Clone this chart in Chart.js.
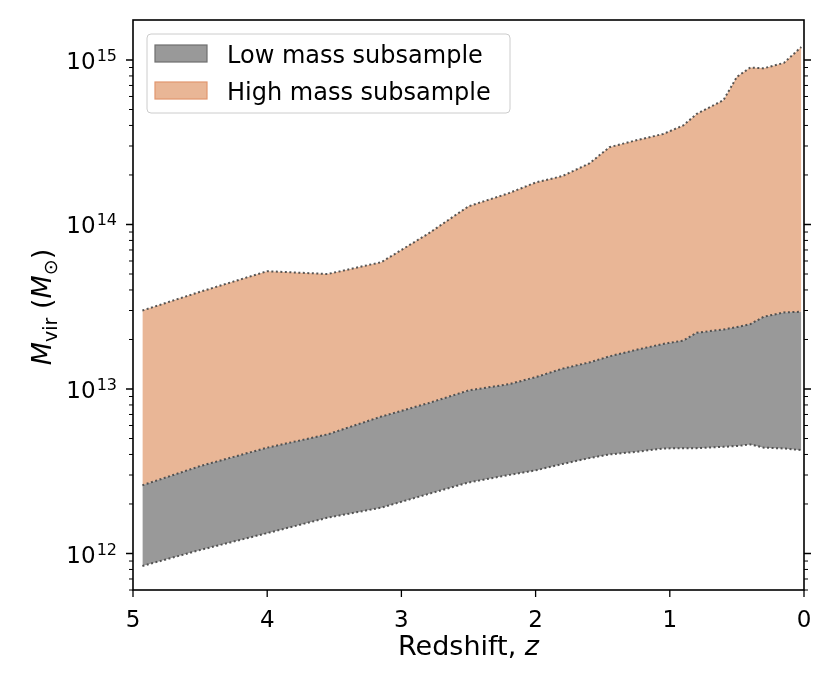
<!DOCTYPE html>
<html>
<head>
<meta charset="utf-8">
<script src="https://cdn.jsdelivr.net/npm/chart.js@4/dist/chart.umd.min.js"></script>
<style>
  html, body { margin: 0; padding: 0; background: #fff; }
  #wrap { width: 830px; height: 692px; }
</style>
</head>
<body>
<div id="wrap"><canvas id="massChart" width="830" height="692"></canvas></div>
<script>
// redshift grid, shared by the three envelope curves
var redshift = [4.93, 4.5, 4.0, 3.55, 3.15, 2.8, 2.5, 2.2, 2.0, 1.8, 1.6, 1.45, 1.25, 1.05, 0.9, 0.8, 0.6, 0.5, 0.4, 0.3, 0.15, 0.02]
// lower edge of low mass subsample
var lowMin = [8.4e11, 1.05e12, 1.33e12, 1.65e12, 1.9e12, 2.3e12, 2.7e12, 3.0e12, 3.2e12, 3.5e12, 3.8e12, 4.0e12, 4.15e12, 4.35e12, 4.37e12, 4.37e12, 4.45e12, 4.5e12, 4.6e12, 4.4e12, 4.35e12, 4.25e12]
// boundary between low and high mass subsamples
var split = [2.6e12, 3.4e12, 4.4e12, 5.3e12, 6.8e12, 8.2e12, 9.8e12, 1.07e13, 1.18e13, 1.33e13, 1.45e13, 1.58e13, 1.73e13, 1.88e13, 1.97e13, 2.2e13, 2.3e13, 2.38e13, 2.48e13, 2.75e13, 2.92e13, 2.95e13]
// upper edge of high mass subsample
var highMax = [3.0e13, 3.9e13, 5.2e13, 5.0e13, 5.9e13, 8.8e13, 1.29e14, 1.55e14, 1.8e14, 1.97e14, 2.35e14, 2.95e14, 3.25e14, 3.55e14, 4.0e14, 4.7e14, 5.7e14, 7.9e14, 9.0e14, 8.9e14, 9.6e14, 1.2e15]

var xTicks = [0, 1, 2, 3, 4, 5]
var yDecades = [12, 13, 14, 15]
var legendNames = ['Low mass subsample', 'High mass subsample']

var grayFill = 'rgb(153,153,153)'
var orangeFill = 'rgb(233,182,150)'
var dotColor = 'rgba(70,70,70,0.9)'

function pts(ys) {
  return redshift.map(function (z, i) { return { x: z, y: ys[i] } })
}

var font = "'DejaVu Sans', sans-serif"

// frame, tick marks, y tick labels, axis titles and the boxed legend
var decorPlugin = {
  id: 'decor',
  afterDraw: function (chart) {
    var ctx = chart.ctx
    var a = chart.chartArea
    var xs = chart.scales.x
    var ys = chart.scales.y
    ctx.save()
    ctx.strokeStyle = '#000'
    ctx.lineWidth = 1.3

    // x ticks (bottom, outward)
    xTicks.forEach(function (t) {
      var px = xs.getPixelForValue(t)
      ctx.beginPath()
      ctx.moveTo(px, a.bottom)
      ctx.lineTo(px, a.bottom + 7)
      ctx.stroke()
    })

    // y ticks, major and minor, both sides
    for (var e = 11; e <= 15; e++) {
      for (var m = 1; m <= 9; m++) {
        var v = m * Math.pow(10, e)
        if (v < ys.min || v > ys.max) continue
        var py = ys.getPixelForValue(v)
        var len = m === 1 ? 7 : 4
        ctx.lineWidth = m === 1 ? 1.3 : 1
        ctx.beginPath()
        ctx.moveTo(a.left, py)
        ctx.lineTo(a.left - len, py)
        ctx.moveTo(a.right, py)
        ctx.lineTo(a.right + len, py)
        ctx.stroke()
      }
    }

    // y tick labels as 10 with raised exponent
    ctx.fillStyle = '#000'
    ctx.textAlign = 'right'
    ctx.textBaseline = 'alphabetic'
    yDecades.forEach(function (d) {
      var py = ys.getPixelForValue(Math.pow(10, d))
      var right = a.left - 16
      ctx.font = '16px ' + font
      var ew = ctx.measureText(String(d)).width
      ctx.fillText(String(d), right, py + 1)
      ctx.font = '23px ' + font
      ctx.fillText('10', right - ew - 1, py + 9)
    })
    ctx.textAlign = 'left'

    // frame
    ctx.lineWidth = 1.6
    ctx.strokeRect(a.left, a.top, a.right - a.left, a.bottom - a.top)

    // legend
    var lx = a.left + 14, ly = a.top + 14, lw = 363, lh = 79
    ctx.fillStyle = 'rgba(255,255,255,0.8)'
    ctx.strokeStyle = '#cccccc'
    ctx.lineWidth = 1
    ctx.beginPath()
    ctx.roundRect(lx, ly, lw, lh, 4)
    ctx.fill()
    ctx.stroke()
    var boxes = [[grayFill, 'rgb(110,110,110)'], [orangeFill, 'rgb(226,150,110)']]
    ctx.font = '24px ' + font
    legendNames.forEach(function (name, i) {
      var by = ly + 11 + i * 37
      ctx.fillStyle = boxes[i][0]
      ctx.strokeStyle = boxes[i][1]
      ctx.lineWidth = 1.2
      ctx.fillRect(lx + 8, by, 52, 17)
      ctx.strokeRect(lx + 8, by, 52, 17)
      ctx.fillStyle = '#000'
      ctx.fillText(name, lx + 80, by + 18)
    })

    // x title: Redshift, z
    ctx.fillStyle = '#000'
    ctx.font = '27px ' + font
    var t1 = 'Redshift, '
    var w1 = ctx.measureText(t1).width
    ctx.font = 'italic 27px ' + font
    var w2 = ctx.measureText('z').width
    var cx = (a.left + a.right) / 2 - (w1 + w2) / 2
    ctx.font = '27px ' + font
    ctx.fillText(t1, cx, 655)
    ctx.font = 'italic 27px ' + font
    ctx.fillText('z', cx + w1, 655)

    // y title: M_vir (M_sun)
    var parts = [
      { t: 'M', f: 'italic 27px ' + font, dy: 0 },
      { t: 'vir', f: '19px ' + font, dy: 6 },
      { t: ' (', f: '27px ' + font, dy: 0 },
      { t: 'M', f: 'italic 27px ' + font, dy: 0 },
      { t: '⊙', f: '19px ' + font, dy: 6 },
      { t: ')', f: '27px ' + font, dy: 0 }
    ]
    var total = 0
    parts.forEach(function (p) { ctx.font = p.f; p.w = ctx.measureText(p.t).width; total += p.w })
    ctx.translate(51, 307)
    ctx.rotate(-Math.PI / 2)
    var px0 = -total / 2
    parts.forEach(function (p) {
      ctx.font = p.f
      ctx.fillText(p.t, px0, p.dy)
      px0 += p.w
    })
    ctx.restore()
  }
}

var ctx = document.getElementById('massChart').getContext('2d')
new Chart(ctx, {
  type: 'line',
  data: {
    datasets: [
      {
        label: 'lower',
        data: pts(lowMin),
        borderColor: dotColor,
        borderDash: [2, 2.5],
        borderWidth: 2,
        pointRadius: 0,
        fill: false,
        tension: 0
      },
      {
        label: legendNames[0],
        data: pts(split),
        borderColor: dotColor,
        borderDash: [2, 2.5],
        borderWidth: 2,
        backgroundColor: grayFill,
        pointRadius: 0,
        fill: '-1',
        tension: 0
      },
      {
        label: legendNames[1],
        data: pts(highMax),
        borderColor: dotColor,
        borderDash: [2, 2.5],
        borderWidth: 2,
        backgroundColor: orangeFill,
        pointRadius: 0,
        fill: '-1',
        tension: 0
      }
    ]
  },
  options: {
    responsive: false,
    animation: false,
    layout: { padding: { left: 0, right: 26, top: 20, bottom: 0 } },
    plugins: {
      legend: { display: false },
      tooltip: { enabled: false },
      filler: { propagate: false }
    },
    scales: {
      x: {
        type: 'linear',
        reverse: true,
        min: 0,
        max: 5,
        grid: { display: false },
        border: { display: false },
        afterBuildTicks: function (scale) {
          scale.ticks = xTicks.map(function (v) { return { value: v } })
        },
        ticks: {
          padding: 9,
          color: '#000',
          font: { family: font, size: 23 },
          maxRotation: 0,
          callback: function (v) { return String(v) }
        },
        afterFit: function (scale) { scale.height = 102 }
      },
      y: {
        type: 'logarithmic',
        min: 6e11,
        max: 1.75e15,
        grid: { display: false },
        border: { display: false },
        ticks: { display: false },
        afterFit: function (scale) { scale.width = 133 }
      }
    }
  },
  plugins: [decorPlugin]
})
</script>
</body>
</html>
